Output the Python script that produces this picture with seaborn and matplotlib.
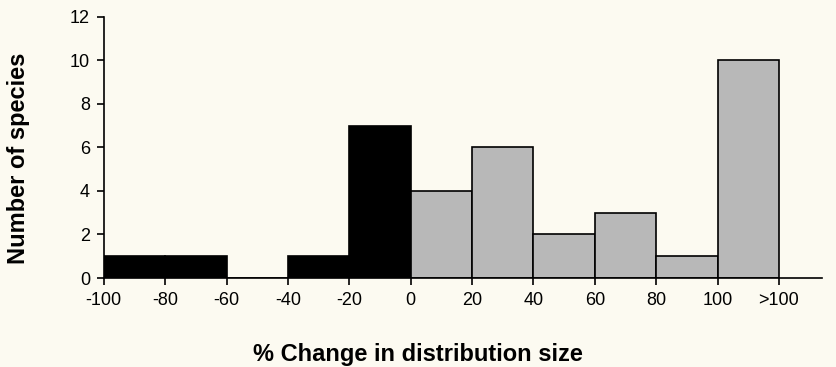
import matplotlib
matplotlib.use("Agg")
import matplotlib.pyplot as plt
import seaborn as sns
import numpy as np

# bin edges (last bin 100-120 is shown as ">100")
edges = [-100, -80, -60, -40, -20, 0, 20, 40, 60, 80, 100, 120]
counts = [1, 1, 0, 1, 7, 4, 6, 2, 3, 1, 10]
tick_pos = [-100, -80, -60, -40, -20, 0, 20, 40, 60, 80, 100, 120]
tick_labels = ["-100", "-80", "-60", "-40", "-20", "0", "20", "40", "60", "80", "100", ">100"]

sns.set_style("ticks")
plt.rcParams["font.family"] = ["Liberation Sans", "DejaVu Sans"]
plt.rcParams["text.color"] = "black"
plt.rcParams["axes.labelcolor"] = "black"

bg = "#fcfaf1"
fig = plt.figure(figsize=(8.37, 3.67), dpi=100, facecolor=bg)
ax = fig.add_axes([0.124, 0.2425, 0.858, 0.7115], facecolor=bg)

centers = [(a + b) / 2 for a, b in zip(edges[:-1], edges[1:])]
neg = [i for i, c in enumerate(centers) if c < 0]
pos = [i for i, c in enumerate(centers) if c > 0]

sns.histplot(x=[centers[i] for i in neg], weights=[counts[i] for i in neg],
             bins=edges[:6], color="black", edgecolor="black", linewidth=1.2,
             alpha=1, ax=ax)
sns.histplot(x=[centers[i] for i in pos], weights=[counts[i] for i in pos],
             bins=edges[5:], color="#b8b8b8", edgecolor="black", linewidth=1.2,
             alpha=1, ax=ax)

ax.set_xlim(-100, 134)
ax.set_ylim(0, 12)
ax.set_yticks(range(0, 13, 2))
ax.set_xticks(tick_pos)
ax.set_xticklabels(tick_labels)
ax.tick_params(labelsize=13, length=5, width=1.2, colors="black", pad=5)
for s in ["top", "right"]:
    ax.spines[s].set_visible(False)
for s in ["left", "bottom"]:
    ax.spines[s].set_linewidth(1.2)
    ax.spines[s].set_color("black")

ax.set_xlabel("% Change in distribution size", fontsize=17, fontweight="bold")
ax.set_ylabel("Number of species", fontsize=17, fontweight="bold")
ax.xaxis.set_label_coords(0.437, -0.25)
ax.yaxis.set_label_coords(-0.103, 0.46)

fig.savefig("out.png", dpi=100, facecolor=bg)
